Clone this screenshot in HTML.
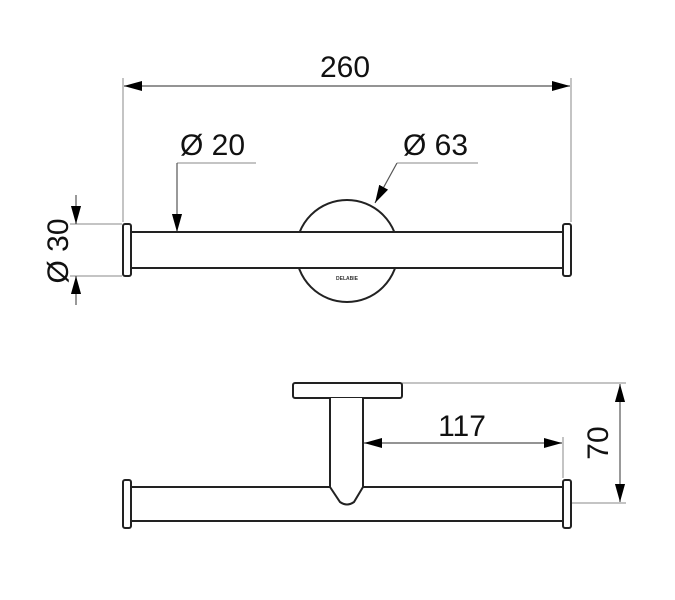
<!DOCTYPE html>
<html><head><style>body{margin:0;background:#fff}svg{display:block}</style></head>
<body>
<svg width="675" height="600" viewBox="0 0 675 600" xmlns="http://www.w3.org/2000/svg" font-family="Liberation Sans, sans-serif">
<defs>
<marker id="b" viewBox="0 0 10 10" refX="10" refY="5" markerWidth="18" markerHeight="18" markerUnits="userSpaceOnUse" orient="auto-start-reverse"><path d="M0,2.2 L10,5 L0,7.8 z" fill="#000"/></marker>
</defs>
<g stroke="#888" stroke-width="1" fill="none">
<line x1="123" y1="78" x2="123" y2="222"/>
<line x1="571" y1="78" x2="571" y2="222"/>
<line x1="70" y1="224" x2="122" y2="224"/>
<line x1="70" y1="276" x2="122" y2="276"/>
<line x1="177" y1="163" x2="256" y2="163"/>
<line x1="397" y1="163" x2="478" y2="163"/>
<line x1="402" y1="383" x2="626" y2="383"/>
<line x1="572" y1="503" x2="626" y2="503"/>
<line x1="563" y1="437" x2="563" y2="478"/>
</g>
<g stroke="#555" stroke-width="1.2" fill="none">
<line x1="124" y1="86" x2="570" y2="86" marker-start="url(#b)" marker-end="url(#b)"/>
<line x1="177" y1="163" x2="177" y2="232" marker-end="url(#b)"/>
<line x1="397" y1="163" x2="375" y2="203" marker-end="url(#b)"/>
<line x1="76" y1="195" x2="76" y2="224" marker-end="url(#b)"/>
<line x1="76" y1="305" x2="76" y2="276" marker-end="url(#b)"/>
<line x1="364" y1="443" x2="562" y2="443" marker-start="url(#b)" marker-end="url(#b)"/>
<line x1="620" y1="384" x2="620" y2="502" marker-start="url(#b)" marker-end="url(#b)"/>
</g>
<g stroke="#222" stroke-width="2" fill="#fff">
<circle cx="347" cy="251" r="51"/>
<rect x="131" y="232" width="432" height="36" fill="#fff"/>
<rect x="123" y="224" width="8" height="52" rx="2"/>
<rect x="563" y="224" width="8" height="52" rx="2"/>
<rect x="293" y="383" width="109" height="15" rx="2"/>
<path d="M330,398 L330,487 L340,502 Q347,507 354,502 L363,487 L363,398"/>
<line x1="131" y1="487" x2="330" y2="487"/>
<line x1="363" y1="487" x2="563" y2="487"/>
<line x1="131" y1="521" x2="563" y2="521"/>
<rect x="123" y="480" width="8" height="48" rx="2"/>
<rect x="563" y="480" width="8" height="48" rx="2"/>
</g>
<text x="347" y="280" font-size="5" font-weight="bold" text-anchor="middle" fill="#333">DELABIE</text>
<g font-size="30" fill="#111">
<text x="345" y="77" text-anchor="middle">260</text>
<text x="180" y="155">Ø 20</text>
<text x="403" y="155">Ø 63</text>
<text x="462" y="436" text-anchor="middle">117</text>
<text transform="translate(68,251) rotate(-90)" text-anchor="middle">Ø 30</text>
<text transform="translate(608,443) rotate(-90)" text-anchor="middle">70</text>
</g>
</svg>
</body></html>
